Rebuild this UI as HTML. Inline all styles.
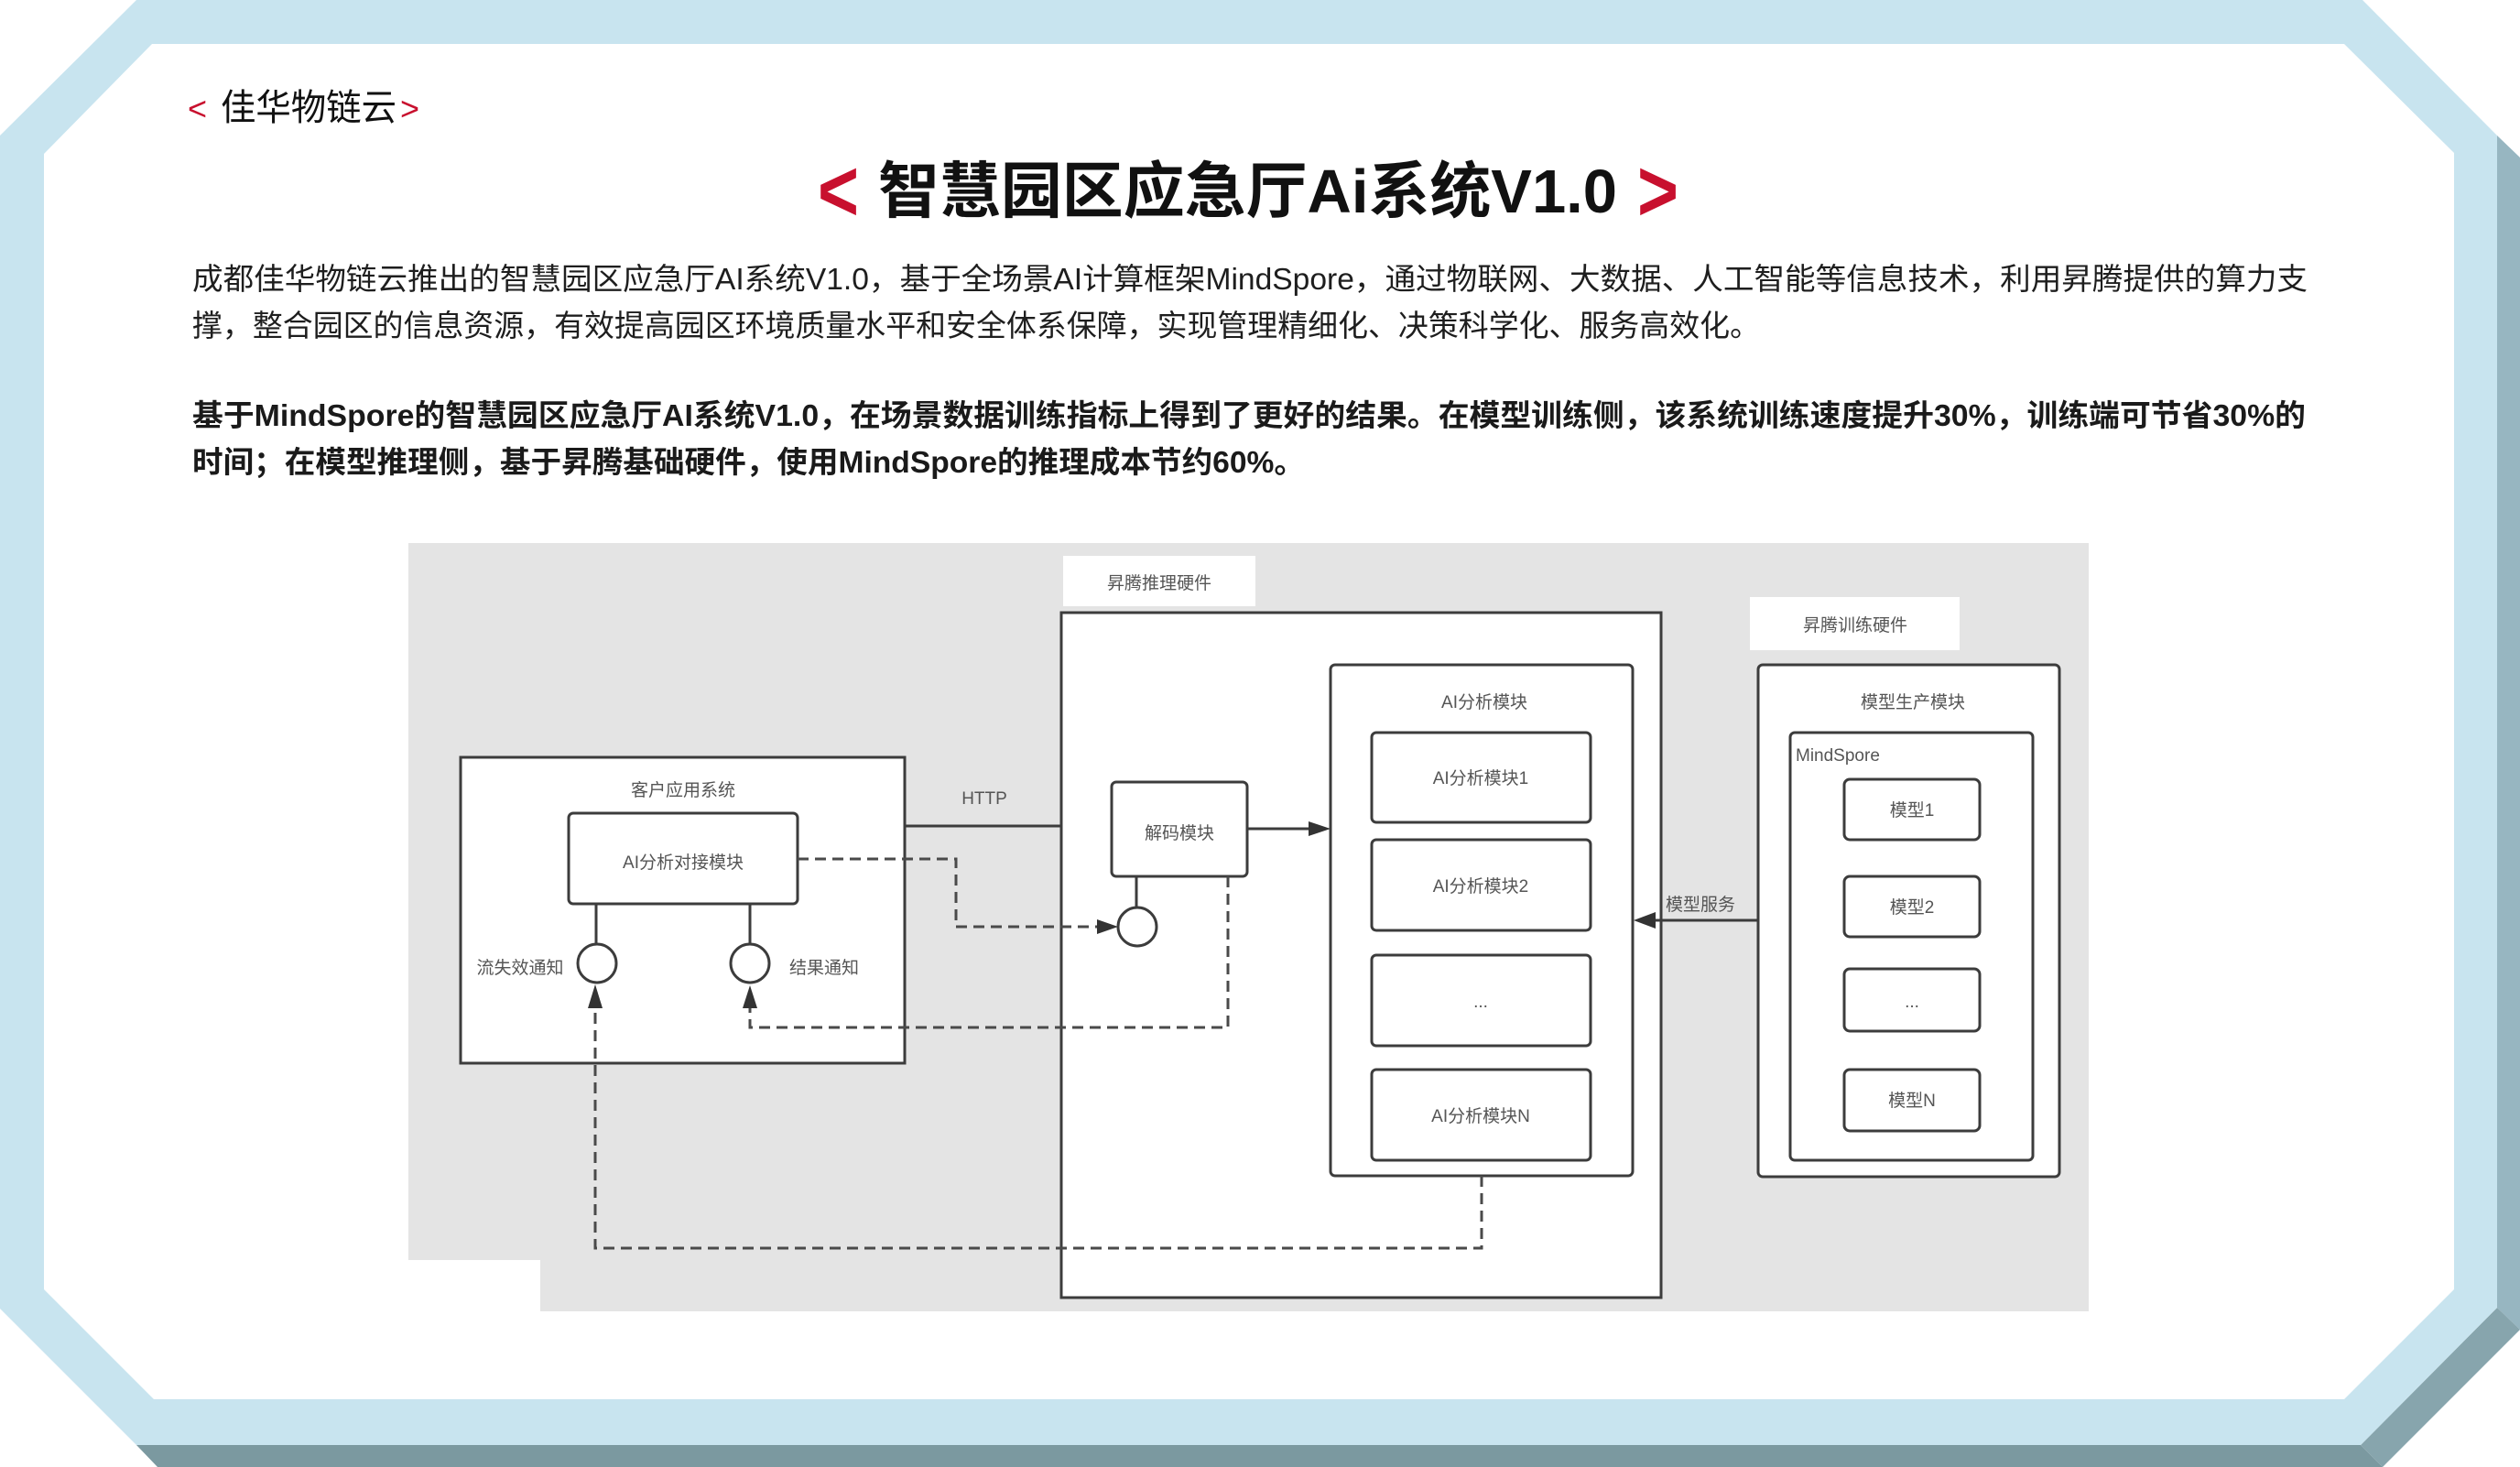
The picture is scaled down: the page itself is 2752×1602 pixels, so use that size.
<!DOCTYPE html>
<html>
<head>
<meta charset="utf-8">
<style>
  html,body{margin:0;padding:0;background:#ffffff;}
  svg{display:block;}
  .t{font-family:"Liberation Sans","Noto Sans CJK SC",sans-serif;}
  .d{font-family:"Liberation Sans","Noto Sans CJK SC",sans-serif;fill:#555;font-size:19px;}
</style>
</head>
<body>
<svg width="2752" height="1602" viewBox="0 0 2752 1602" xmlns="http://www.w3.org/2000/svg">
  <!-- frame -->
  <rect x="0" y="0" width="2752" height="1602" fill="#ffffff"/>
  <polygon points="2727,148 2752,172 2752,1452 2727,1428" fill="#97b6c1"/>
  <polygon points="2727,1428 2752,1452 2602,1602 2578,1578" fill="#87a5ad"/>
  <polygon points="149,1578 2578,1578 2602,1602 172,1602" fill="#7b99a0"/>
  <polygon points="149,0 2580,0 2727,148 2727,1428 2578,1578 149,1578 0,1429 0,148" fill="#c8e4ef"/>
  <polygon points="166,48 2560,48 2680,167 2680,1408 2560,1528 168,1528 48,1408 48,168" fill="#ffffff"/>

  <!-- header -->
  <text class="t" x="205" y="131" font-size="36" fill="#c8102e">&lt;</text>
  <text class="t" x="241" y="131" font-size="40" fill="#111" textLength="192" lengthAdjust="spacingAndGlyphs">佳华物链云</text>
  <text class="t" x="437" y="131" font-size="36" fill="#c8102e">&gt;</text>

  <!-- title -->
  <text class="t" x="893" y="241" font-size="96" font-weight="bold" fill="#c8102e" textLength="45" lengthAdjust="spacingAndGlyphs">&lt;</text>
  <text class="t" x="959" y="232" font-size="67" font-weight="bold" fill="#111" textLength="807" lengthAdjust="spacingAndGlyphs">智慧园区应急厅Ai系统V1.0</text>
  <text class="t" x="1788" y="241" font-size="96" font-weight="bold" fill="#c8102e" textLength="45" lengthAdjust="spacingAndGlyphs">&gt;</text>

  <!-- paragraphs -->
  <text class="t" x="210" y="316" font-size="33" fill="#1e1e1e" textLength="2310" lengthAdjust="spacingAndGlyphs">成都佳华物链云推出的智慧园区应急厅AI系统V1.0，基于全场景AI计算框架MindSpore，通过物联网、大数据、人工智能等信息技术，利用昇腾提供的算力支</text>
  <text class="t" x="210" y="367" font-size="33" fill="#1e1e1e" textLength="1712" lengthAdjust="spacingAndGlyphs">撑，整合园区的信息资源，有效提高园区环境质量水平和安全体系保障，实现管理精细化、决策科学化、服务高效化。</text>
  <text class="t" x="210" y="465" font-size="33" font-weight="bold" fill="#1a1a1a" textLength="2308" lengthAdjust="spacingAndGlyphs">基于MindSpore的智慧园区应急厅AI系统V1.0，在场景数据训练指标上得到了更好的结果。在模型训练侧，该系统训练速度提升30%，训练端可节省30%的</text>
  <text class="t" x="210" y="516" font-size="33" font-weight="bold" fill="#1a1a1a" textLength="1215" lengthAdjust="spacingAndGlyphs">时间；在模型推理侧，基于昇腾基础硬件，使用MindSpore的推理成本节约60%。</text>

  <!-- diagram background -->
  <polygon points="446,593 2281,593 2281,1432 590,1432 590,1376 446,1376" fill="#e4e4e4"/>

  <!-- hardware labels -->
  <rect x="1161" y="607" width="210" height="55" fill="#ffffff"/>
  <text class="d" x="1266" y="643" font-size="18" text-anchor="middle">昇腾推理硬件</text>
  <rect x="1911" y="652" width="229" height="58" fill="#ffffff"/>
  <text class="d" x="2026" y="689" font-size="18" text-anchor="middle">昇腾训练硬件</text>

  <g fill="#ffffff" stroke="#3c3c3c" stroke-width="3">
    <!-- inference box -->
    <rect x="1159" y="669" width="655" height="748"/>
    <!-- client box -->
    <rect x="503" y="827" width="485" height="334"/>
    <!-- AI module outer -->
    <rect x="1453" y="726" width="330" height="558" rx="5"/>
    <!-- model production -->
    <rect x="1920" y="726" width="329" height="559" rx="5"/>
    <rect x="1955" y="800" width="265" height="467" rx="5"/>
  </g>

  <!-- client inner -->
  <g fill="#ffffff" stroke="#3c3c3c" stroke-width="3">
    <rect x="621" y="888" width="250" height="99" rx="5"/>
    <rect x="1214" y="854" width="148" height="103" rx="5"/>
    <rect x="1498" y="800" width="239" height="98" rx="5"/>
    <rect x="1498" y="917" width="239" height="99" rx="5"/>
    <rect x="1498" y="1043" width="239" height="99" rx="5"/>
    <rect x="1498" y="1168" width="239" height="99" rx="5"/>
    <rect x="2014" y="851" width="148" height="66" rx="6"/>
    <rect x="2014" y="957" width="148" height="66" rx="6"/>
    <rect x="2014" y="1058" width="148" height="68" rx="6"/>
    <rect x="2014" y="1168" width="148" height="67" rx="6"/>
  </g>

  <!-- solid connectors -->
  <g stroke="#3c3c3c" stroke-width="3" fill="none">
    <line x1="651" y1="987" x2="651" y2="1031"/>
    <line x1="819" y1="987" x2="819" y2="1031"/>
    <line x1="1241" y1="957" x2="1241" y2="991"/>
    <line x1="988" y1="902" x2="1159" y2="902"/>
    <line x1="1362" y1="905" x2="1431" y2="905"/>
    <line x1="1920" y1="1005" x2="1806" y2="1005"/>
  </g>

  <!-- circles -->
  <g fill="#ffffff" stroke="#3c3c3c" stroke-width="3">
    <circle cx="652" cy="1052" r="21"/>
    <circle cx="819" cy="1052" r="21"/>
    <circle cx="1242" cy="1012" r="21"/>
  </g>

  <!-- dashed connectors -->
  <g stroke="#4a4a4a" stroke-width="3" fill="none" stroke-dasharray="12 7">
    <polyline points="871,938 1044,938 1044,1012 1200,1012"/>
    <polyline points="1341,957 1341,1122 819,1122 819,1101"/>
    <polyline points="1618,1284 1618,1363 650,1363 650,1101"/>
  </g>

  <!-- arrowheads -->
  <g fill="#333">
    <polygon points="1453,905 1429,897 1429,913"/>
    <polygon points="1221,1012 1198,1004 1198,1020"/>
    <polygon points="650,1075 642,1101 658,1101"/>
    <polygon points="819,1076 811,1101 827,1101"/>
    <polygon points="1784,1005 1808,996 1808,1014"/>
  </g>

  <!-- diagram labels -->
  <text class="d" x="746" y="869" text-anchor="middle">客户应用系统</text>
  <text class="d" x="746" y="948" text-anchor="middle">AI分析对接模块</text>
  <text class="d" x="568" y="1063" text-anchor="middle">流失效通知</text>
  <text class="d" x="900" y="1063" text-anchor="middle">结果通知</text>
  <text class="d" x="1075" y="878" font-size="18" text-anchor="middle">HTTP</text>
  <text class="d" x="1288" y="916" text-anchor="middle">解码模块</text>
  <text class="d" x="1621" y="773" text-anchor="middle">AI分析模块</text>
  <text class="d" x="1617" y="856" text-anchor="middle">AI分析模块1</text>
  <text class="d" x="1617" y="974" text-anchor="middle">AI分析模块2</text>
  <text class="d" x="1617" y="1100" font-size="16" fill="#999" text-anchor="middle">...</text>
  <text class="d" x="1617" y="1225" text-anchor="middle">AI分析模块N</text>
  <text class="d" x="1857" y="994" text-anchor="middle">模型服务</text>
  <text class="d" x="2089" y="773" text-anchor="middle">模型生产模块</text>
  <text class="d" x="1961" y="831" font-size="18">MindSpore</text>
  <text class="d" x="2088" y="891" text-anchor="middle">模型1</text>
  <text class="d" x="2088" y="997" text-anchor="middle">模型2</text>
  <text class="d" x="2088" y="1100" font-size="16" fill="#999" text-anchor="middle">...</text>
  <text class="d" x="2088" y="1208" text-anchor="middle">模型N</text>
</svg>
</body>
</html>
